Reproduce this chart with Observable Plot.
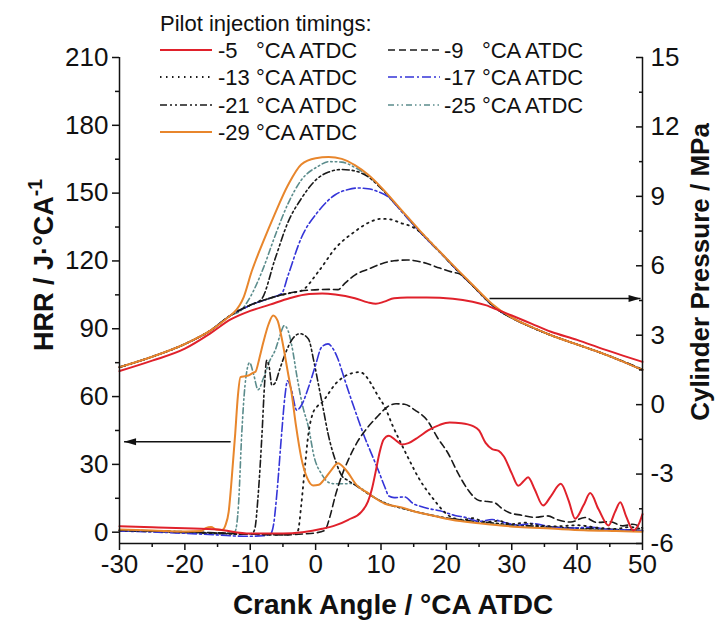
<!DOCTYPE html>
<html><head><meta charset="utf-8">
<script src="https://cdn.jsdelivr.net/npm/d3@7"></script>
<script src="https://cdn.jsdelivr.net/npm/@observablehq/plot@0.6"></script>
<style>
body{margin:0;background:#fff;font-family:"Liberation Sans",Arial,sans-serif;}
#wrap{position:relative;width:720px;height:624px;overflow:hidden;}
#wrap svg{position:absolute;left:0;top:0;}
.lab{position:absolute;font-weight:bold;white-space:nowrap;color:#111;line-height:1;}
</style></head><body><div id="wrap"></div>
<script>
// ---- data: crank angle (°CA ATDC) vs HRR (J/°CA) and cylinder pressure (MPa)
const timings = ["-5", "-9", "-13", "-17", "-21", "-25", "-29"];
const xTicks = [-30, -20, -10, 0, 10, 20, 30, 40, 50];
const hrrTicks = [0, 30, 60, 90, 120, 150, 180, 210];
const pTicks = [-6, -3, 0, 3, 6, 9, 12, 15];

const hrr_m5 = [[-30,2.6],[-25,2.2],[-20,1.8],[-15,1.2],[-10,-0.6],[-5,-0.6],[-2,0],[1,1.5],[3,3],[5,5.5],[7,9],[8,13.5],[8.6,19],[9.2,27],[9.8,35.5],[10.4,41],[11.2,42.7],[12.2,40.8],[13.2,38.8],[14.2,39.4],[15.7,42],[17.2,45],[19,47.5],[20.5,48.5],[22.3,48.2],[24,47],[25,45],[26,39.5],[27,36.8],[28,36],[28.8,33.5],[30,26],[31,20.5],[31.8,22.5],[32.5,24.3],[33.5,19],[34.8,11.8],[36,16],[37.5,21.4],[38.7,14],[39.7,6],[41,12],[42,17.3],[43.3,10],[44.8,3],[45.8,9],[46.6,13.3],[47.5,7],[48.6,0.8],[49.5,4],[50,8]];
const hrr_m9 = [[-30,0.9],[-25,0.6],[-20,0.2],[-15,-0.3],[-10,-0.8],[-5,-1.2],[-2,-0.8],[0,-0.3],[1.4,0.8],[2.2,7],[3,16],[4,25],[5,32],[6.5,40.5],[8,46.5],[9.6,51.6],[11,55.5],[12.3,56.8],[13.6,56.6],[15.2,54],[17.1,49.4],[18.6,42],[20.3,34.7],[21.8,26],[23.4,18.4],[25,14],[26.3,13.6],[27.4,13],[28.5,10.5],[29.5,8.8],[31.5,7.5],[33.5,6.6],[35.5,7.2],[37,5.5],[39,4.5],[41.2,6.5],[43,4.3],[45,4.6],[47,2.8],[48.5,3.5],[50,1.8]];
const hrr_m13 = [[-30,0.8],[-25,0.5],[-20,0.1],[-15,-0.4],[-10,-0.8],[-6,-1.2],[-3.5,-0.8],[-2.7,0.7],[-2.2,12],[-1.6,30],[-1.1,43.6],[-0.5,52],[0.2,55.5],[1,57.5],[2,61.5],[3,65.5],[4.2,68.5],[5.5,70.3],[6.8,70.8],[7.7,69],[8.5,65.6],[9.5,60.5],[10.6,55.3],[11.8,47],[13.1,39.1],[14.4,31.5],[15.7,24.3],[17,18.5],[18.2,14],[19.5,9.5],[20.8,6.6],[22.5,5.5],[24,6.2],[26,4.5],[28,5],[30,3.6],[32,4.2],[34,3],[37,2.6],[40,3.1],[43,2],[46,1.5],[48,2.3],[50,1.2]];
const hrr_m17 = [[-30,0.5],[-25,0.1],[-20,-0.5],[-15,-1.2],[-11,-1.8],[-8,-1.6],[-6.9,-0.8],[-6.4,4],[-5.9,18],[-5.2,43.6],[-4.7,60],[-4.3,67],[-3.7,63],[-2.9,54],[-2.1,56.5],[-1.1,64],[0,74],[0.9,81.8],[1.9,83.3],[2.7,81],[3.4,76.7],[4.5,67],[5.5,58.3],[6.5,50],[7.5,42],[8.5,35],[9.6,27.3],[10.6,19.9],[11.2,16],[12,15.3],[13.6,15.6],[15,12.5],[16,11.5],[17.2,10.5],[19,9.5],[21.3,7.4],[23,6.5],[25,4.8],[27,5.6],[29,4.2],[31,3.2],[33,3.8],[36,2.4],[39,1.8],[42,2.2],[45,1.2],[48,0.9],[50,0.6]];
const hrr_m21 = [[-30,0.6],[-25,0.3],[-20,-0.2],[-15,-0.6],[-11,-0.9],[-9.7,-0.5],[-9.3,1.5],[-8.8,16],[-8.2,43.6],[-7.8,66],[-7.5,76],[-7.1,73],[-6.7,65],[-6.2,66],[-5.5,72],[-4.5,80],[-3.7,84.8],[-2.4,87.8],[-1.1,85.5],[-0.3,76],[0.4,65.8],[1.2,54],[1.9,43.6],[3,32],[4,25],[5,22.8],[6.5,20],[8,17],[9.5,14.5],[11,12.5],[14,10],[17,8],[20,6.3],[23,5.2],[26,4.4],[30,3.3],[35,2.5],[40,1.8],[45,1.3],[50,0.8]];
const hrr_m25 = [[-30,0.7],[-25,0.4],[-20,0],[-16,-0.5],[-13,-0.6],[-12.3,0.5],[-11.8,12],[-11.3,43.6],[-10.8,65],[-10.1,75],[-9.5,70],[-8.8,63],[-8,68],[-7,76],[-6.2,80.4],[-5.5,86.5],[-4.8,91.4],[-4.2,89],[-3.7,83.3],[-2.8,68],[-2,56],[-1.1,46.5],[-0.2,33],[0.9,25.8],[2,22],[3,21.4],[4.5,21.4],[5.5,21.6],[6.5,20.3],[8,17.3],[10.6,12.8],[13,10.8],[16,8.5],[20,6.1],[25,4.2],[30,3],[35,2.1],[40,1.5],[45,1.1],[50,0.7]];
const hrr_m29 = [[-30,1.2],[-25,0.8],[-20,0.3],[-17.5,0.5],[-16.8,1.8],[-16,2.3],[-15.2,1.2],[-14.3,1],[-13.8,3],[-13.3,9],[-12.8,25],[-12.3,43.6],[-11.9,60],[-11.5,68.6],[-10.8,69],[-10.3,69.3],[-9.6,70.5],[-9.2,71],[-8.6,77],[-8,84],[-7.2,92],[-6.5,95.9],[-5.8,93.5],[-5.2,86],[-4.2,70],[-3.7,62],[-3,47],[-2.2,33],[-1.3,24],[-0.4,20.7],[0.5,21],[1.2,22.9],[2.4,27.5],[3.4,30.5],[4.7,27.3],[6.3,20.7],[7.8,17.7],[10.6,12.6],[13,11.1],[15,9.3],[18,7.3],[20.8,5.5],[25,4],[31,2.3],[36,1.6],[41,0.9],[46,0.5],[50,0.2]];

const p_m5 = [[-30,1.45],[-25,1.9],[-20,2.42],[-16,3.1],[-13,3.68],[-10,4.05],[-7,4.32],[-4,4.6],[-1,4.78],[1,4.8],[3,4.76],[6,4.6],[8,4.42],[9.2,4.36],[10.5,4.45],[12,4.6],[14,4.63],[17,4.63],[21,4.58],[24,4.45],[26,4.3],[28,4.08],[30,3.85],[33,3.5],[36,3.15],[40,2.8],[44,2.4],[47,2.12],[50,1.85]];
const p_m9 = [[-30,1.62],[-25,2.07],[-20,2.62],[-16,3.22],[-13,3.86],[-10,4.3],[-7,4.6],[-4,4.82],[-1,4.95],[2,4.98],[3.4,4.97],[4.5,5.25],[6,5.6],[8,5.85],[10,6.08],[12,6.22],[14,6.25],[16.5,6.14],[19,5.9],[21,5.72],[22,5.66],[24,5.15],[27,4.32],[28,4.08],[30,3.75],[33,3.35],[36,3.0],[40,2.6],[44,2.2],[47,1.88],[50,1.52]];
const p_m13 = [[-30,1.62],[-25,2.07],[-20,2.62],[-16,3.22],[-13,3.86],[-10,4.3],[-7,4.6],[-4,4.82],[-2.2,4.92],[0.4,5.74],[3,6.75],[6,7.48],[8,7.85],[10,8.03],[11.5,8.0],[13,7.85],[15,7.65],[16,7.45],[18,6.9],[20,6.3],[22,5.7],[24,5.15],[27,4.3],[28,4.08],[30,3.75],[33,3.35],[36,3.0],[40,2.6],[44,2.2],[47,1.87],[50,1.5]];
const p_m17 = [[-30,1.62],[-25,2.07],[-20,2.62],[-16,3.22],[-13,3.86],[-10,4.3],[-7,4.6],[-5.2,4.8],[-4.2,5.6],[-2.2,7.2],[0.4,8.35],[3,9.07],[5,9.3],[6.5,9.36],[8,9.33],[9.6,9.2],[11,9.0],[13,8.4],[16,7.45],[20,6.3],[22,5.7],[24,5.15],[27,4.3],[28,4.08],[30,3.75],[33,3.35],[36,3.0],[40,2.6],[44,2.2],[47,1.86],[50,1.5]];
const p_m21 = [[-30,1.62],[-25,2.07],[-20,2.62],[-16,3.22],[-13,3.86],[-10,4.3],[-8.3,4.55],[-6.2,6.3],[-4.2,7.9],[-2.2,8.9],[0.4,9.8],[2,10.05],[4,10.16],[6,10.1],[8,9.85],[10,9.35],[13,8.4],[16,7.45],[20,6.3],[22,5.7],[24,5.15],[27,4.3],[28,4.08],[30,3.75],[33,3.35],[36,3.0],[40,2.6],[44,2.2],[47,1.86],[50,1.5]];
const p_m25 = [[-30,1.62],[-25,2.07],[-20,2.62],[-16,3.22],[-13,3.86],[-11.5,4.05],[-10,4.65],[-8,5.9],[-6.2,7.3],[-4.2,8.7],[-2.2,9.7],[0.4,10.3],[2,10.5],[4,10.48],[6,10.25],[8,9.9],[10,9.37],[13,8.42],[16,7.47],[20,6.3],[22,5.72],[24,5.16],[27,4.32],[28,4.08],[30,3.75],[33,3.35],[36,3.0],[40,2.6],[44,2.2],[47,1.86],[50,1.5]];
const p_m29 = [[-30,1.62],[-25,2.07],[-20,2.62],[-16,3.22],[-13,3.86],[-12.5,3.98],[-11,4.65],[-9.8,5.74],[-8,7.05],[-6.3,8.2],[-4.2,9.5],[-2.2,10.38],[0,10.65],[2,10.7],[4,10.62],[6,10.35],[8,9.94],[10,9.4],[13,8.45],[16,7.5],[20,6.32],[24,5.18],[27,4.35],[30,3.76],[33,3.36],[36,3.0],[40,2.6],[44,2.2],[47,1.86],[50,1.5]];

// annotation arrows: x from/to (°CA), y in HRR units
const arrowFrom = [-13, 26.6];
const arrowTo = [-29.3, 49.7];
const arrowY = [40, 103.4];

// ---- styles
const styles = [
  {color: "#e0212b", dash: null, width: 2},
  {color: "#1a1a1a", dash: "7,4", width: 1.6},
  {color: "#1a1a1a", dash: "1.5,4.5", width: 1.8},
  {color: "#3434d8", dash: "9,3,2,3", width: 1.6},
  {color: "#1a1a1a", dash: "7,3,2,3,2,3", width: 1.6},
  {color: "#5b8c8c", dash: "6,3,1.5,3,1.5,3", width: 1.6},
  {color: "#e8862c", dash: null, width: 2}
];
const hrrData = [hrr_m5, hrr_m9, hrr_m13, hrr_m17, hrr_m21, hrr_m25, hrr_m29];
const pData = [p_m5, p_m9, p_m13, p_m17, p_m21, p_m25, p_m29];

const yDom = [-5, 210], pDom = [-6, 15];
const toHRR = p => yDom[0] + (p - pDom[0]) * (yDom[1] - yDom[0]) / (pDom[1] - pDom[0]);

const rows = [];
timings.forEach((t, i) => {
  hrrData[i].forEach(([x, v]) => rows.push({i, kind: "hrr", x, v}));
  pData[i].forEach(([x, v]) => rows.push({i, kind: "p", x, v: toHRR(v)}));
});
const drawOrder = [5, 4, 3, 2, 1, 6, 0];
const lineMarks = drawOrder.map(i => Plot.line(rows.filter(r => r.i === i), {
  x: "x", y: "v", z: "kind", stroke: styles[i].color, strokeWidth: styles[i].width,
  strokeDasharray: styles[i].dash, curve: "monotone-x"
}));

const arrows = arrowFrom.map((x1, k) => ({x1, x2: arrowTo[k], y: arrowY[k]}));
const headSym = {draw(ctx) { ctx.moveTo(0, 0); ctx.lineTo(-3.5, 12); ctx.lineTo(3.5, 12); ctx.closePath(); }};

const fam = "Liberation Sans, Arial, sans-serif";
const minor = (a) => a.slice(0, -1).map((v, k) => (v + a[k + 1]) / 2);

const chart = Plot.plot({
  width: 720, height: 624,
  marginLeft: 119, marginRight: 78, marginTop: 57, marginBottom: 81,
  x: {domain: [-30, 50]},
  y: {domain: yDom},
  style: {fontFamily: fam, color: "#111", background: "transparent", overflow: "visible"},
  marks: [
    ...lineMarks,
    Plot.link(arrows, {x1: "x1", x2: "x2", y1: "y", y2: "y", stroke: "#111", strokeWidth: 1.5}),
    Plot.dot(arrows, {x: "x2", y: "y", symbol: headSym, fill: "#111", stroke: "none", rotate: d => d.x2 < d.x1 ? -90 : 90}),
    Plot.ruleX([-30], {stroke: "#111", strokeWidth: 1.5}),
    Plot.ruleX([50], {stroke: "#111", strokeWidth: 1.5}),
    Plot.ruleY([yDom[0]], {stroke: "#111", strokeWidth: 1.5}),
    Plot.axisX({ticks: xTicks, tickSize: 7, tickPadding: 4, fontSize: 26, tickFormat: d => String(d), label: null, strokeWidth: 1.5}),
    Plot.axisX({ticks: minor(xTicks), tickSize: 4, text: null, label: null, strokeWidth: 1.5}),
    Plot.axisY({ticks: hrrTicks, tickSize: 7, tickPadding: 4, fontSize: 26, tickFormat: d => String(d), label: null, strokeWidth: 1.5}),
    Plot.axisY({ticks: minor(hrrTicks), tickSize: 4, text: null, label: null, strokeWidth: 1.5}),
    Plot.axisY({anchor: "right", ticks: pTicks.map(toHRR), tickSize: 7, dx: -7, text: null, label: null, strokeWidth: 1.5}),
    Plot.axisY({anchor: "right", ticks: minor(pTicks).map(toHRR), tickSize: 4, dx: -4, text: null, label: null, strokeWidth: 1.5}),
    Plot.axisY({anchor: "right", ticks: pTicks.map(toHRR), tickSize: 0, tickPadding: 8, fontSize: 26, label: null,
      tickFormat: d => String(Math.round((d - yDom[0]) * (pDom[1] - pDom[0]) / (yDom[1] - yDom[0]) + pDom[0]))})
  ]
});
const wrap = document.getElementById("wrap");
wrap.appendChild(chart);

// ---- legend overlay
const lg = d3.select(wrap).append("svg").attr("width", 720).attr("height", 624)
  .style("font-family", fam).style("pointer-events", "none");
lg.append("text").attr("x", 160).attr("y", 31).attr("font-size", 22).attr("fill", "#111").text("Pilot injection timings:");
const colX = [160, 388], textX = [218, 444], rowY = [50, 77, 105, 132];
timings.forEach((t, i) => {
  const cx = colX[i % 2], tx = textX[i % 2], cy = rowY[Math.floor(i / 2)];
  lg.append("line").attr("x1", cx).attr("x2", cx + 52).attr("y1", cy).attr("y2", cy)
    .attr("stroke", styles[i].color).attr("stroke-width", styles[i].width)
    .attr("stroke-dasharray", styles[i].dash);
  const lab = t.length < 3 ? t + "\u2007 °CA ATDC" : t + " °CA ATDC";
  lg.append("text").attr("x", tx).attr("y", cy + 8).attr("font-size", 22).attr("fill", "#111").text(lab);
});

// ---- axis titles
function addLab(html, x, y, size, rot) {
  const d = document.createElement("div");
  d.className = "lab";
  d.innerHTML = html;
  d.style.left = x + "px"; d.style.top = y + "px"; d.style.fontSize = size + "px";
  d.style.transform = "translate(-50%,-50%)" + (rot ? " rotate(" + rot + "deg)" : "");
  wrap.appendChild(d);
}
addLab("Crank Angle / °CA ATDC", 393, 605, 28, 0);
addLab("HRR / J·°CA<sup style='font-size:0.72em;vertical-align:0.55em'>-1</sup>", 42, 265, 27, -90);
addLab("Cylinder Pressure / MPa", 700, 272, 26, -90);
</script></body></html>
